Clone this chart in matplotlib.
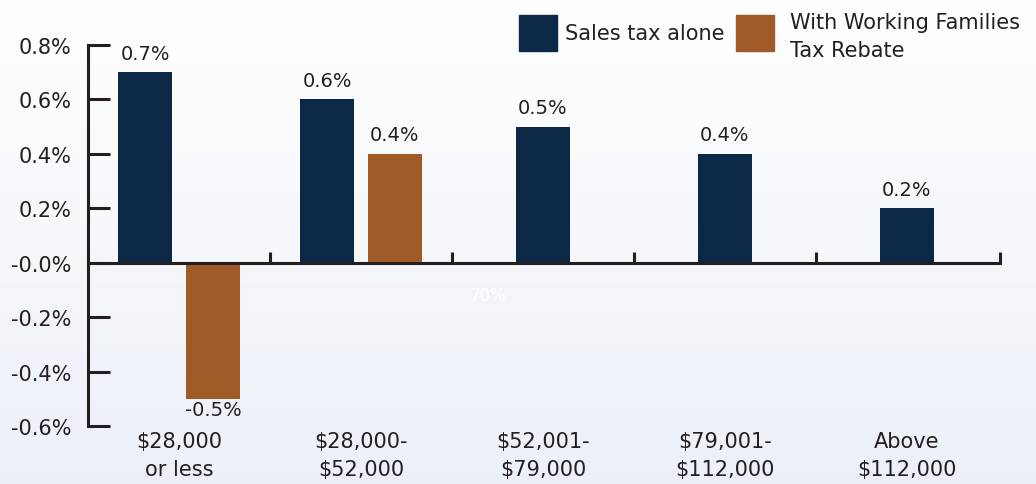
import numpy as np
import matplotlib.pyplot as plt
from matplotlib.patches import Rectangle

categories = ['$28,000\nor less', '$28,000-\n$52,000', '$52,001-\n$79,000',
              '$79,001-\n$112,000', 'Above\n$112,000']
sales_tax = [0.7, 0.6, 0.5, 0.4, 0.2]
with_rebate = [-0.5, 0.4, None, None, None]
y_ticks = [-0.6, -0.4, -0.2, 0.0, 0.2, 0.4, 0.6, 0.8]
y_labels = ['-0.6%', '-0.4%', '-0.2%', '-0.0%', '0.2%', '0.4%', '0.6%', '0.8%']
series_names = ['Sales tax alone', 'With Working Families\nTax Rebate']

navy = '#0b2946'
brown = '#9f5a27'
ink = '#231f20'
fs = 15

fig = plt.figure(figsize=(10.36, 4.85), dpi=100)

# soft gradient background
bg = fig.add_axes([0, 0, 1, 1], zorder=-10)
grad = np.linspace(0, 1, 256).reshape(-1, 1)
bg.imshow(np.dstack([1 - grad * 0.075, 1 - grad * 0.06, 1 - grad * 0.03]),
          aspect='auto', extent=[0, 1, 0, 1], origin='upper')
bg.axis('off')

ax = fig.add_axes([0.085, 0.1196, 0.880, 0.7856])
ax.patch.set_alpha(0)

width = 0.30
off = 0.186
for i, (s, r) in enumerate(zip(sales_tax, with_rebate)):
    c = i + 0.5
    xs = c - off if r is not None else c
    ax.bar(xs, s, width, color=navy)
    ax.text(xs, s + 0.035, f'{s:.1f}%', ha='center', va='bottom',
            fontsize=fs - 1, color=ink)
    if r is not None:
        xr = c + off
        ax.bar(xr, r, width, color=brown)
        if r >= 0:
            ax.text(xr, r + 0.035, f'{r:.1f}%', ha='center', va='bottom',
                    fontsize=fs - 1, color=ink)
        else:
            ax.text(xr, r - 0.005, f'{r:.1f}%', ha='center', va='top',
                    fontsize=fs - 1, color=ink)

ax.set_xlim(0, 5.01)
ax.set_ylim(-0.6, 0.8)

for side in ['top', 'right']:
    ax.spines[side].set_visible(False)
ax.spines['bottom'].set_position(('data', 0))
ax.spines['bottom'].set_bounds(0, 5.01)
for side in ['left', 'bottom']:
    ax.spines[side].set_color(ink)
    ax.spines[side].set_linewidth(2.2)

ax.set_yticks(y_ticks)
ax.set_yticklabels(y_labels, fontsize=fs, color=ink)
ax.tick_params(axis='y', direction='in', length=16, width=2.2, color=ink, pad=12)

ax.set_xticks([1, 2, 3, 4, 5.01])
ax.set_xticklabels([])
ax.tick_params(axis='x', direction='in', length=8, width=2.2, color=ink)

for i, lab in enumerate(categories):
    ax.text(i + 0.5, -0.62, lab, ha='center', va='top', fontsize=fs,
            color=ink, linespacing=1.45)

# faint leftover label
ax.text(2.2, -0.12, '70%', ha='center', va='center', fontsize=12, color='white')

# legend
fig.add_artist(Rectangle((519 / 1036, 1 - 52 / 485), 38 / 1036, 36 / 485,
                         transform=fig.transFigure, color=navy))
fig.text(565 / 1036, 1 - 34 / 485, series_names[0], ha='left', va='center',
         fontsize=fs, color=ink)
fig.add_artist(Rectangle((736 / 1036, 1 - 52 / 485), 38 / 1036, 36 / 485,
                         transform=fig.transFigure, color=brown))
fig.text(790 / 1036, 1 - 37 / 485, series_names[1], ha='left', va='center',
         fontsize=fs, color=ink, linespacing=1.45)

fig.savefig('out.png', dpi=100)
